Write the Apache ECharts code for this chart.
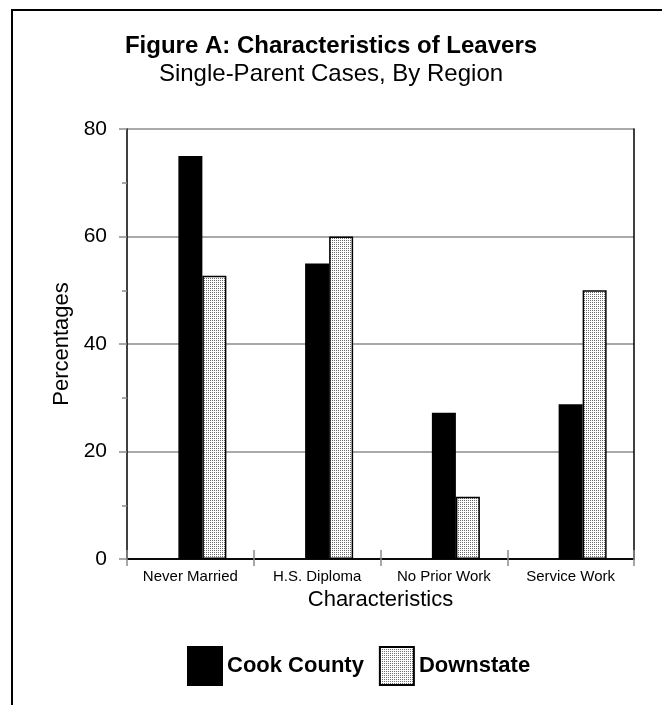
<!DOCTYPE html>
<html>
<head>
<meta charset="utf-8">
<script src="https://cdn.jsdelivr.net/npm/echarts@6/dist/echarts.min.js"></script>
<style>
  html, body { margin: 0; padding: 0; background: #fff; }
  #chart { width: 662px; height: 705px; }
</style>
</head>
<body>
<div id="chart"></div>
<script>
// Chart data
const categories = ['Never Married', 'H.S. Diploma', 'No Prior Work', 'Service Work'];
const cookCounty = [75, 55, 27.2, 28.8];
const downstate = [52.7, 60, 11.6, 50];
const yTicks = [0, 20, 40, 60, 80];

const FONT = '"Liberation Sans", Arial, Helvetica, sans-serif';
const GREY = '#8c8c8c';

// Fine stipple fill used for the Downstate bars
function stipple() {
  const c = document.createElement('canvas');
  c.width = 2; c.height = 2;
  const g = c.getContext('2d');
  g.fillStyle = '#ffffff';
  g.fillRect(0, 0, 2, 2);
  g.fillStyle = '#6a6a6a';
  g.fillRect(0, 0, 1, 1);
  return c;
}
const dotFill = { image: stipple(), repeat: 'repeat' };

const chart = echarts.init(document.getElementById('chart'), null, { renderer: 'canvas' });

const gridBox = { left: 127, top: 129, right: 28, bottom: 146 };

chart.setOption({
  animation: false,
  backgroundColor: '#fff',
  title: [
    {
      text: 'Figure A: Characteristics of Leavers',
      left: 'center', top: 29,
      textStyle: { fontFamily: FONT, fontSize: 24, fontWeight: 'bold', color: '#000' }
    },
    {
      text: 'Single-Parent Cases, By Region',
      left: 'center', top: 57,
      textStyle: { fontFamily: FONT, fontSize: 24, fontWeight: 'normal', color: '#000' }
    }
  ],
  legend: {
    data: ['Cook County', 'Downstate'],
    left: 187, top: 646, padding: 0,
    itemWidth: 34, itemHeight: 38, itemGap: 15,
    icon: 'rect',
    textStyle: { fontFamily: FONT, fontSize: 22, fontWeight: 'bold', color: '#000', padding: [0, 0, 0, 0] }
  },
  grid: gridBox,
  xAxis: [
    {
      type: 'category', data: categories, position: 'bottom',
      name: 'Characteristics', nameLocation: 'middle', nameGap: 30,
      nameTextStyle: { fontFamily: FONT, fontSize: 22, color: '#000' },
      axisLine: { lineStyle: { color: '#000', width: 1.5 } },
      axisTick: { show: true, length: 7, lineStyle: { color: GREY, width: 1.5 } },
      axisLabel: { fontFamily: FONT, fontSize: 15, color: '#000', margin: 10 },
      splitLine: { show: false }
    },
    {
      // top edge of the plot frame
      type: 'category', data: categories, position: 'top',
      axisLine: { lineStyle: { color: '#000', width: 1.5 } },
      axisTick: { show: false }, axisLabel: { show: false }, splitLine: { show: false }
    },
    {
      // tick marks rising into the plot at category boundaries
      type: 'category', data: categories, position: 'bottom',
      axisLine: { show: false },
      axisTick: { show: true, inside: true, length: 9, lineStyle: { color: GREY, width: 1.5 } },
      axisLabel: { show: false }, splitLine: { show: false }
    }
  ],
  yAxis: [
    {
      type: 'value', min: 0, max: 80, interval: 20, position: 'left',
      name: 'Percentages', nameLocation: 'middle', nameGap: 52, nameRotate: 90,
      nameTextStyle: { fontFamily: FONT, fontSize: 22, color: '#000' },
      axisLine: { show: true, lineStyle: { color: '#000', width: 1.5 } },
      axisTick: { show: true, length: 8, lineStyle: { color: GREY, width: 1.5 } },
      minorTick: { show: true, splitNumber: 2, length: 5, lineStyle: { color: GREY, width: 1.5 } },
      axisLabel: {
        fontFamily: FONT, fontSize: 21, color: '#000', margin: 20,
        formatter: v => (yTicks.indexOf(v) >= 0 ? String(v) : '')
      },
      splitLine: { show: true, lineStyle: { color: GREY, width: 1.5 } }
    },
    {
      // right edge of the plot frame
      type: 'value', min: 0, max: 80, interval: 20, position: 'right',
      axisLine: { show: true, lineStyle: { color: '#000', width: 1.5 } },
      axisTick: { show: false }, axisLabel: { show: false }, splitLine: { show: false }
    },
    {
      // minor tick marks crossing into the plot
      type: 'value', min: 0, max: 80, interval: 20, position: 'left',
      axisLine: { show: false },
      axisTick: { show: false },
      minorTick: { show: true, splitNumber: 2, length: 5, lineStyle: { color: GREY, width: 1.5 } },
      axisLabel: { show: false }, splitLine: { show: false }
    }
  ],
  series: [
    {
      // empty slot to the left of each pair, keeps Cook County centred on the category
      name: '_slot', type: 'bar', data: categories.map(() => null),
      barWidth: 24, barGap: '0%', silent: true
    },
    {
      name: 'Cook County', type: 'bar', data: cookCounty,
      barWidth: 24, barGap: '0%',
      itemStyle: { color: '#000', borderColor: '#000', borderWidth: 1.5 }
    },
    {
      name: 'Downstate', type: 'bar', data: downstate,
      barWidth: 24, barGap: '0%',
      itemStyle: { color: dotFill, borderColor: '#000', borderWidth: 1.5 }
    }
  ],
  graphic: [
    { type: 'line', shape: { x1: 11, y1: 10, x2: 662, y2: 10 }, style: { stroke: '#000', lineWidth: 2 } },
    { type: 'line', shape: { x1: 12, y1: 10, x2: 12, y2: 705 }, style: { stroke: '#000', lineWidth: 2 } }
  ]
});
</script>
</body>
</html>
